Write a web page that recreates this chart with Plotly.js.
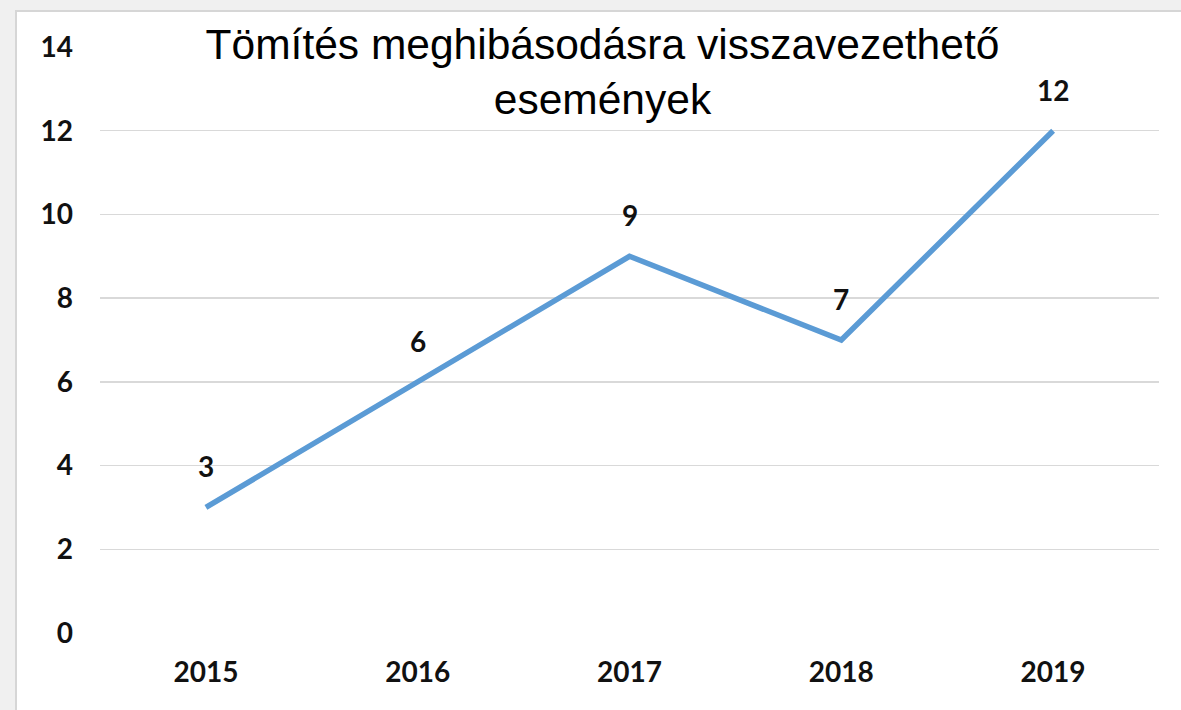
<!DOCTYPE html>
<html>
<head>
<meta charset="utf-8">
<script src="https://cdn.plot.ly/plotly-3.0.1.min.js"></script>
<style>
  html, body { margin: 0; padding: 0; background: #f0f0f0; overflow: hidden; }
  #frame { position: absolute; left: 15px; top: 10px; border-left: 2px solid #d6d6d6; border-top: 2px solid #d6d6d6; background: #fff; }
  #chart { width: 1164px; height: 698px; }
</style>
</head>
<body>
<div id="frame"><div id="chart"></div></div>
<script>
const years = ['2015', '2016', '2017', '2018', '2019'];
const counts = [3, 6, 9, 7, 12];
const yTicks = [0, 2, 4, 6, 8, 10, 12, 14];
const titleText = 'Tömítés meghibásodásra visszavezethető<br>események';

const labelFont = () => ({ family: 'Lato, "DejaVu Sans", sans-serif', size: 28, color: '#111111', weight: 'bold' });

const trace = {
  type: 'scatter',
  mode: 'lines',
  x: years,
  y: counts,
  line: { color: '#5b9bd5', width: 5.5 },
  hoverinfo: 'skip'
};

const annotations = years.map((yr, i) => ({
  x: i, y: counts[i], xref: 'x', yref: 'y',
  text: '<b>' + counts[i] + '</b>',
  showarrow: false, yshift: 41,
  font: labelFont()
}));

const layout = {
  width: 1164, height: 698,
  paper_bgcolor: '#ffffff', plot_bgcolor: '#ffffff',
  margin: { l: 83, r: 22, t: 35, b: 77 },
  showlegend: false,
  title: {
    text: titleText,
    font: { family: '"Liberation Sans", Arial, sans-serif', size: 42.5, color: '#000' },
    x: 0.503, xanchor: 'center', y: 0.933, yanchor: 'top'
  },
  xaxis: {
    type: 'category',
    range: [-0.5, 4.5],
    showgrid: false, zeroline: false, showline: false,
    ticks: '', ticklabelstandoff: 20,
    tickfont: labelFont()
  },
  yaxis: {
    range: [0, 14],
    tickvals: yTicks,
    showgrid: true, gridcolor: '#d9d9d9', gridwidth: 1.5,
    zeroline: false, showline: false,
    ticks: '', ticklabelstandoff: 26,
    tickfont: labelFont()
  },
  annotations: annotations
};

Plotly.newPlot('chart', [trace], layout, { staticPlot: true, displayModeBar: false });
</script>
</body>
</html>
